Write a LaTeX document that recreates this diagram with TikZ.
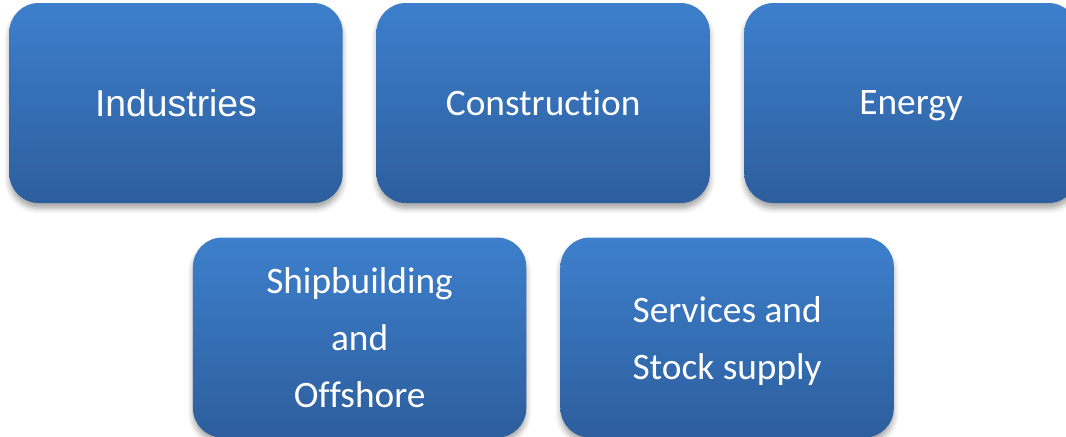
\documentclass[tikz,border=0pt]{standalone}
\usepackage{fontspec}
\setmainfont{Carlito}[Ligatures=NoCommon]
\newfontfamily\arialfont{Liberation Sans}
\usepackage{xcolor}
\usepackage{tikz}
\usetikzlibrary{positioning, calc, shadows.blur}
\definecolor{boxtop}{RGB}{61,127,204}
\definecolor{boxbottom}{RGB}{45,94,157}
\tikzstyle{sector} = [rectangle, rounded corners=22pt, minimum width=250pt, minimum height=150pt, text centered, align=center, text depth=0pt, text=white, top color=boxtop, bottom color=boxbottom, font=\fontsize{28}{42.75}\selectfont, blur shadow={shadow xshift=0pt, shadow yshift=-4pt, shadow blur radius=4pt, shadow opacity=35}]

\begin{document}
\begin{tikzpicture}
		% page frame: Industries sits at the origin
		\useasboundingbox (-132pt,77.25pt) rectangle (667.5pt,-249.75pt);
		\node (Industries)[sector, font=\arialfont\fontsize{28}{42.75}\selectfont]{Industries};
		\node (Construction)[sector, right = 25pt of Industries]{Construction};
		\node (Energy)[sector, right = 25.5pt of Construction]{Energy};
		\coordinate (MidLeft) at ($(Industries.south)!0.5!(Construction.south)$);
		\coordinate (MidRight) at ($(Construction.south)!0.5!(Energy.south)$);
		\node (Shipbuilding)[sector, below = 25.5pt of MidLeft]{Shipbuilding\\and\\Offshore};
		\node (Services)[sector, below = 25.5pt of MidRight]{Services and\\Stock supply};
	\end{tikzpicture}
\end{document}
